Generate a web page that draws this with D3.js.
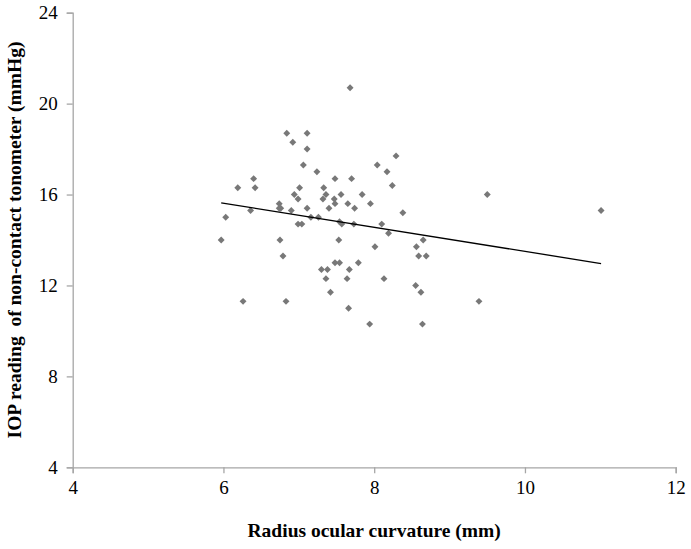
<!DOCTYPE html>
<meta charset="utf-8">
<html>
<head>
<title>IOP vs radius ocular curvature</title>
<style>
body { margin: 0; background: #fff; }
svg text { font-family: "Liberation Serif", "Times New Roman", serif; fill: #000; }
.tick text { font-size: 19px; }
.title { font-size: 19.5px; font-weight: bold; }
</style>
</head>
<body>
<svg class="chart" width="691" height="549"></svg>

<script src="https://cdn.jsdelivr.net/npm/d3@7"></script>
<script>

// radius ocular curvature (mm)
const radius = [
  7.68, 6.84, 7.11, 6.92, 7.11, 7.06, 7.24, 8.04, 6.40, 6.19,
  6.42, 7.01, 7.33, 7.48, 7.70, 6.94, 7.36, 7.56, 7.84, 6.99,
  7.32, 7.47, 6.74, 7.48, 7.65, 7.95, 6.74, 6.76, 7.11, 7.40,
  7.74, 6.36, 6.90, 6.03, 7.16, 7.26, 6.99, 7.04, 7.54, 7.57,
  7.73, 5.97, 6.75, 7.53, 8.29, 8.17, 8.24, 8.38, 9.50, 11.01,
  8.10, 8.19, 8.65, 8.01, 6.79, 7.48, 7.54, 7.79, 7.30, 7.38,
  7.67, 7.36, 7.64, 7.42, 6.26, 6.83, 7.66, 7.94, 8.56, 8.59,
  8.69, 8.13, 8.55, 8.62, 9.39, 8.64
]

// IOP reading (mmHg)
const iop = [
  20.7, 18.7, 18.7, 18.3, 18.0, 17.3, 17.0, 17.3, 16.7, 16.3,
  16.3, 16.3, 16.3, 16.7, 16.7, 16.0, 16.0, 16.0, 16.0, 15.8,
  15.8, 15.8, 15.6, 15.6, 15.6, 15.6, 15.4, 15.4, 15.4, 15.4,
  15.4, 15.3, 15.3, 15.0, 15.0, 15.0, 14.7, 14.7, 14.8, 14.7,
  14.7, 14.0, 14.0, 14.0, 17.7, 17.0, 16.4, 15.2, 16.0, 15.3,
  14.7, 14.3, 14.0, 13.7, 13.3, 13.0, 13.0, 13.0, 12.7, 12.7,
  12.7, 12.3, 12.3, 11.7, 11.3, 11.3, 11.0, 10.3, 13.7, 13.3,
  13.3, 12.3, 12.0, 11.7, 11.3, 10.3
]

// linear trend
const trendSlope = -0.53
const trendIntercept = 18.8

const xTicks = [4, 6, 8, 10, 12]
const yTicks = [4, 8, 12, 16, 20, 24]

var points = radius.map((r, i) => ({ x: r, y: iop[i] }))

var svg = d3.select("svg.chart")
var plotL = 72.7, plotR = 675.7, plotT = 12.7, plotB = 467.3

var x = d3.scaleLinear().domain([4, 12]).range([plotL, plotR])
var y = d3.scaleLinear().domain([4, 24]).range([plotB, plotT])

var xAxis = svg.append("g")
  .attr("transform", "translate(0," + plotB + ")")
  .call(d3.axisBottom(x).tickValues(xTicks).tickSizeOuter(0).tickSize(6).tickPadding(7))
var yAxis = svg.append("g")
  .attr("transform", "translate(" + plotL + ",0)")
  .call(d3.axisLeft(y).tickValues(yTicks).tickSizeOuter(0).tickSize(6).tickPadding(9))

svg.selectAll(".domain, .tick line").attr("stroke", "#a6a6a6").attr("stroke-width", 1.3)
svg.selectAll(".tick text").attr("font-size", null)

// scatter
svg.append("g").selectAll("path")
  .data(points)
  .enter().append("path")
  .attr("d", d3.symbol().type(d3.symbolSquare).size(24))
  .attr("transform", (d) => "translate(" + x(d.x) + "," + y(d.y) + ") rotate(45)")
  .attr("fill", "#787878")

// trend line over the data range
var xr = d3.extent(radius)
svg.append("line")
  .attr("x1", x(xr[0])).attr("y1", y(trendIntercept + trendSlope * xr[0]))
  .attr("x2", x(xr[1])).attr("y2", y(trendIntercept + trendSlope * xr[1]))
  .attr("stroke", "#000").attr("stroke-width", 1.3)

svg.append("text")
  .attr("class", "title")
  .attr("x", (plotL + plotR) / 2).attr("y", 537)
  .attr("text-anchor", "middle")
  .text("Radius ocular curvature (mm)")

svg.append("text")
  .attr("class", "title")
  .attr("transform", "translate(21," + ((plotT + plotB) / 2) + ") rotate(-90)")
  .attr("text-anchor", "middle")
  .style("white-space", "pre")
  .text("IOP reading  of non-contact tonometer (mmHg)")

</script>
</body>
</html>
